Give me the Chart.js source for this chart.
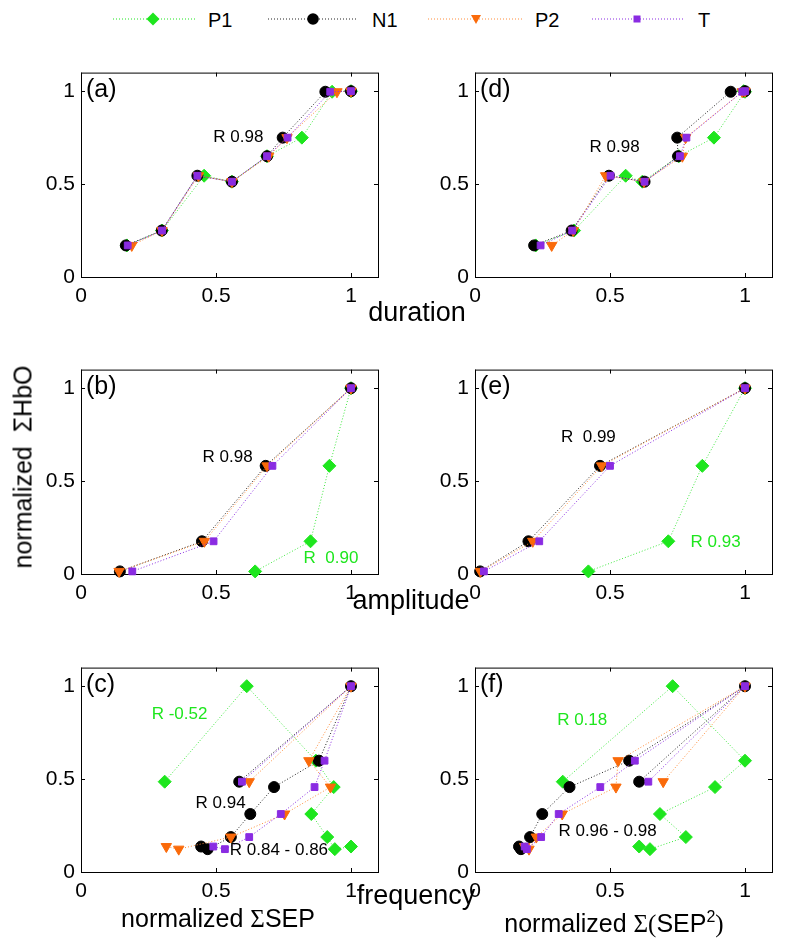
<!DOCTYPE html>
<html>
<head>
<meta charset="utf-8">
<script src="https://cdn.jsdelivr.net/npm/chart.js@4"></script>
<style>
  body { margin: 0; background: #fff; font-family: 'Liberation Sans', Arial, sans-serif; }
  #page { position: relative; width: 800px; height: 945px; overflow: hidden; }
  .panel { position: absolute; }
  .lbl { position: absolute; white-space: nowrap; color: #000; line-height: 1; transform: translateX(-50%); }
  .sig { font-family: 'Liberation Serif', 'Times New Roman', serif; }
</style>
</head>
<body>
<div id="page">
  <svg id="legend" width="800" height="40" style="position:absolute;left:0;top:0">
    <g font-family="'Liberation Sans', Arial, sans-serif" font-size="20" fill="#000">
      <line x1="113" y1="19" x2="195" y2="19" stroke="#1ee61e" stroke-dasharray="1 2"/>
      <polygon points="153,12.5 159.5,19 153,25.5 146.5,19" fill="#1ee61e"/>
      <text x="208" y="27">P1</text>
      <line x1="268" y1="19" x2="358" y2="19" stroke="#222" stroke-dasharray="1 2"/>
      <circle cx="313" cy="19" r="5.8" fill="#000"/>
      <text x="372" y="27">N1</text>
      <line x1="428" y1="19" x2="523" y2="19" stroke="#ff8c3a" stroke-dasharray="1 2"/>
      <polygon points="471,15 481,15 476,24" fill="#fa6a0a"/>
      <text x="535" y="27">P2</text>
      <line x1="592" y1="19" x2="683" y2="19" stroke="#8a2be2" stroke-dasharray="1 2"/>
      <rect x="633.5" y="15.5" width="7" height="7" fill="#8a2be2"/>
      <text x="698" y="27">T</text>
    </g>
  </svg>

  <div class="panel" style="left:36px;top:54px"><canvas id="pA" width="350" height="255"></canvas></div>
  <div class="panel" style="left:430px;top:54px"><canvas id="pD" width="350" height="255"></canvas></div>
  <div class="panel" style="left:36px;top:351px"><canvas id="pB" width="350" height="255"></canvas></div>
  <div class="panel" style="left:430px;top:351px"><canvas id="pE" width="350" height="255"></canvas></div>
  <div class="panel" style="left:36px;top:649px"><canvas id="pC" width="350" height="255"></canvas></div>
  <div class="panel" style="left:430px;top:649px"><canvas id="pF" width="350" height="255"></canvas></div>

  <div class="lbl" style="left:417px;top:299px;font-size:27px">duration</div>
  <div class="lbl" style="left:411px;top:587px;font-size:27px">amplitude</div>
  <div class="lbl" style="left:416px;top:882px;font-size:27px">frequency</div>
  <div class="lbl" style="left:218px;top:906px;font-size:25px">normalized <span class="sig">Σ</span>SEP</div>
  <div class="lbl" style="left:614px;top:911px;font-size:25px">normalized <span class="sig">Σ(</span>SEP<span style="font-size:16px;position:relative;top:-10px">2</span><span class="sig">)</span></div>
  <div class="lbl" style="left:23px;top:467px;font-size:25px;transform:translate(-50%,-50%) rotate(-90deg)">normalized&nbsp; ΣHbO</div>
</div>

<script>
// normalized ΣHbO per condition (same for every SEP component)
const hboDuration = [0.17, 0.25, 0.545, 0.513, 0.65, 0.75, 0.997, 1.0];
const hboAmplitude = [0.014, 0.176, 0.582, 1.0];
const hboFrequency = [0.486, 1.0, 0.599, 0.457, 0.312, 0.188, 0.123, 0.137];

// (a) duration vs normalized ΣSEP
const aP1 = [0.17, 0.30, 0.456, 0.559, 0.689, 0.818, 0.93, 1.0];
const aN1 = [0.166, 0.299, 0.431, 0.559, 0.689, 0.747, 0.905, 1.0];
const aP2 = [0.188, 0.30, 0.435, 0.559, 0.695, 0.763, 0.948, 1.0];
const aT = [0.173, 0.30, 0.431, 0.559, 0.689, 0.765, 0.923, 1.0];

// (d) duration vs normalized Σ(SEP²)
const dP1 = [0.225, 0.367, 0.558, 0.62, 0.755, 0.885, 1.0, 0.995];
const dN1 = [0.219, 0.358, 0.496, 0.628, 0.752, 0.749, 0.947, 1.0];
const dP2 = [0.284, 0.364, 0.484, 0.626, 0.768, 0.78, 0.99, 1.0];
const dT = [0.243, 0.36, 0.502, 0.628, 0.759, 0.783, 0.99, 1.0];

// (b) amplitude vs normalized ΣSEP
const bP1 = [0.645, 0.85, 0.92, 1.0];
const bN1 = [0.144, 0.448, 0.684, 1.0];
const bP2 = [0.141, 0.457, 0.689, 1.0];
const bT = [0.19, 0.491, 0.709, 1.0];

// (e) amplitude vs normalized Σ(SEP²)
const eP1 = [0.42, 0.716, 0.842, 1.0];
const eN1 = [0.019, 0.198, 0.463, 1.0];
const eP2 = [0.02, 0.214, 0.469, 1.0];
const eT = [0.033, 0.238, 0.5, 1.0];

// (c) frequency vs normalized ΣSEP
const cP1 = [0.31, 0.614, 0.87, 0.936, 0.853, 0.912, 0.94, 1.0];
const cN1 = [0.586, 1.0, 0.881, 0.715, 0.627, 0.555, 0.469, 0.445];
const cP2 = [0.623, 1.0, 0.844, 0.924, 0.754, 0.555, 0.362, 0.316];
const cT = [0.596, 1.0, 0.902, 0.865, 0.74, 0.623, 0.533, 0.49];

// (f) frequency vs normalized Σ(SEP²)
const fP1 = [0.325, 0.732, 1.0, 0.889, 0.685, 0.781, 0.648, 0.608];
const fN1 = [0.608, 1.0, 0.571, 0.35, 0.249, 0.204, 0.17, 0.163];
const fP2 = [0.697, 1.0, 0.53, 0.522, 0.323, 0.227, 0.2, 0.184];
const fT = [0.642, 1.0, 0.592, 0.464, 0.31, 0.245, 0.192, 0.184];

const tickVals = [0, 0.5, 1];

const GREEN = '#1ee61e';
const BLACK = '#000';

Chart.defaults.font.family = "'Liberation Sans', Arial, sans-serif";

// box with inward ticks, panel letter and R annotations
const frame = {
  id: 'frame',
  beforeDatasetsDraw(chart, args, opts) {
    const { ctx, chartArea: a, scales: { x, y } } = chart;
    ctx.save();
    ctx.strokeStyle = '#000';
    ctx.lineWidth = 1;
    ctx.strokeRect(a.left + 0.5, a.top + 0.5, a.right - a.left, a.bottom - a.top);
    ctx.beginPath();
    tickVals.forEach(v => {
      const px = Math.round(x.getPixelForValue(v)) + 0.5;
      ctx.moveTo(px, a.bottom); ctx.lineTo(px, a.bottom - 4);
      ctx.moveTo(px, a.top); ctx.lineTo(px, a.top + 4);
      const py = Math.round(y.getPixelForValue(v)) + 0.5;
      ctx.moveTo(a.left, py); ctx.lineTo(a.left + 4, py);
      ctx.moveTo(a.right, py); ctx.lineTo(a.right - 4, py);
    });
    ctx.stroke();
    ctx.fillStyle = '#000';
    ctx.font = "25px 'Liberation Sans', Arial, sans-serif";
    ctx.textAlign = 'left';
    ctx.textBaseline = 'alphabetic';
    ctx.fillText('(' + opts.letter + ')', a.left + 5, a.top + 24);
    ctx.restore();
  },
  afterDatasetsDraw(chart, args, opts) {
    const { ctx, scales: { x, y } } = chart;
    ctx.save();
    ctx.font = "17px 'Liberation Sans', Arial, sans-serif";
    ctx.textAlign = 'center';
    ctx.textBaseline = 'middle';
    opts.notes.forEach(n => {
      ctx.fillStyle = n.color;
      ctx.fillText(n.text, x.getPixelForValue(n.x), y.getPixelForValue(n.y));
    });
    ctx.restore();
  }
};

function series(label, xs, ys, color, lineColor, style, radius, order, rotation) {
  return {
    label,
    data: xs.map((v, i) => ({ x: v, y: ys[i] })),
    showLine: true,
    borderColor: lineColor,
    borderWidth: 1,
    borderDash: [1, 2],
    pointStyle: style,
    pointRadius: radius,
    pointRotation: rotation || 0,
    pointBackgroundColor: color,
    pointBorderColor: color,
    pointBorderWidth: 1,
    order,
    clip: false
  };
}

function axis(isX) {
  return {
    type: 'linear',
    min: 0,
    max: 1.1,
    grid: { display: false, drawTicks: false },
    border: { display: false },
    ticks: { color: '#000', font: { size: 21 }, padding: isX ? 7 : 6, callback: v => String(v) },
    afterBuildTicks: s => { s.ticks = tickVals.map(v => ({ value: v })); },
    afterFit: s => { if (isX) s.height = 32; else s.width = 45; }
  };
}

function makePanel(id, letter, ys, p1, n1, p2, t, notes) {
  new Chart(document.getElementById(id), {
    type: 'scatter',
    data: {
      datasets: [
        series('P1', p1, ys, GREEN, '#3ee83e', 'rectRot', 6.5, 3),
        series('N1', n1, ys, BLACK, '#222', 'circle', 5.5, 2),
        series('P2', p2, ys, '#fa6a0a', '#ff8c3a', 'triangle', 6, 1, 180),
        series('T', t, ys, '#8a2be2', '#8a2be2', 'rect', 4.8, 0)
      ]
    },
    options: {
      responsive: false,
      animation: false,
      layout: { padding: { top: 8, right: 8, left: 0, bottom: 0 } },
      plugins: {
        legend: { display: false },
        tooltip: { enabled: false },
        frame: { letter, notes }
      },
      scales: { x: axis(true), y: axis(false) }
    },
    plugins: [frame]
  });
}

makePanel('pA', 'a', hboDuration, aP1, aN1, aP2, aT, [
  { text: 'R 0.98', x: 0.583, y: 0.754, color: BLACK }
]);
makePanel('pD', 'd', hboDuration, dP1, dN1, dP2, dT, [
  { text: 'R 0.98', x: 0.517, y: 0.70, color: BLACK }
]);
makePanel('pB', 'b', hboAmplitude, bP1, bN1, bP2, bT, [
  { text: 'R 0.98', x: 0.543, y: 0.629, color: BLACK },
  { text: 'R  0.90', x: 0.926, y: 0.085, color: GREEN }
]);
makePanel('pE', 'e', hboAmplitude, eP1, eN1, eP2, eT, [
  { text: 'R  0.99', x: 0.42, y: 0.735, color: BLACK },
  { text: 'R 0.93', x: 0.891, y: 0.171, color: GREEN }
]);
makePanel('pC', 'c', hboFrequency, cP1, cN1, cP2, cT, [
  { text: 'R -0.52', x: 0.365, y: 0.846, color: GREEN },
  { text: 'R 0.94', x: 0.517, y: 0.372, color: BLACK },
  { text: 'R 0.84 - 0.86', x: 0.733, y: 0.115, color: BLACK }
]);
makePanel('pF', 'f', hboFrequency, fP1, fN1, fP2, fT, [
  { text: 'R 0.18', x: 0.397, y: 0.817, color: GREEN },
  { text: 'R 0.96 - 0.98', x: 0.491, y: 0.217, color: BLACK }
]);
</script>
</body>
</html>
